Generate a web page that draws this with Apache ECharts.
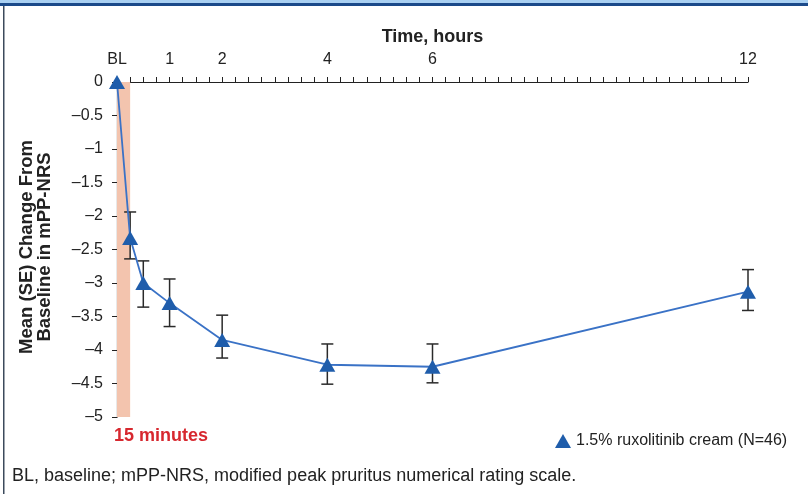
<!DOCTYPE html>
<html>
<head>
<meta charset="utf-8">
<script src="https://cdn.jsdelivr.net/npm/echarts@6/dist/echarts.min.js"></script>
<style>
  html, body { margin: 0; padding: 0; background: #fff; }
  #chart { width: 808px; height: 494px; }
</style>
</head>
<body>
<div id="chart"></div>
<script>
// ---- data ----
const times = [0, 0.25, 0.5, 1, 2, 4, 6, 12];           // hours
const meanChange = [0, -2.33, -3.00, -3.30, -3.85, -4.22, -4.25, -3.13];
const seUpper = [null, -1.94, -2.67, -2.94, -3.48, -3.91, -3.91, -2.80];
const seLower = [null, -2.64, -3.36, -3.65, -4.12, -4.51, -4.49, -3.41];
const xTickValues = [0, 1, 2, 4, 6, 12];
const xTickLabels = ['BL', '1', '2', '4', '6', '12'];
const shadeRange = [0, 0.25];
const seriesName = '1.5% ruxolitinib cream (N=46)';

const FONT = "'Liberation Sans', Arial, sans-serif";

const chart = echarts.init(document.getElementById('chart'), null, { renderer: 'canvas' });

const lineData = times.map((t, i) => [t, meanChange[i]]);
const errData = [];
times.forEach((t, i) => { if (seUpper[i] !== null) errData.push([t, seLower[i], seUpper[i]]); });

const option = {
  backgroundColor: '#fff',
  animation: false,
  grid: { left: 117, right: 60, top: 82, bottom: 77, containLabel: false },
  xAxis: {
    type: 'value', position: 'top', min: 0, max: 12, interval: 0.25,
    name: 'Time, hours', nameLocation: 'middle', nameGap: 36, nameMoveOverlap: false,
    nameTextStyle: { fontFamily: FONT, fontWeight: 'bold', fontSize: 18, color: '#222' },
    axisLine: { show: true, onZero: false, lineStyle: { color: '#222', width: 1.2 } },
    axisTick: { show: true, inside: false, length: 5, lineStyle: { color: '#222', width: 1 } },
    axisLabel: {
      show: true, margin: 14, fontFamily: FONT, fontSize: 16, color: '#222',
      showMinLabel: true, showMaxLabel: true,
      formatter: function (v) {
        const idx = xTickValues.findIndex(x => Math.abs(x - v) < 1e-6);
        return idx >= 0 ? xTickLabels[idx] : '';
      }
    },
    splitLine: { show: false }
  },
  yAxis: {
    type: 'value', min: -5, max: 0, interval: 0.5,
    axisLine: { show: true, onZero: false, lineStyle: { color: '#222', width: 1.2 } },
    axisTick: { show: true, inside: false, length: 5, lineStyle: { color: '#222', width: 1 } },
    axisLabel: {
      margin: 14, fontFamily: FONT, fontSize: 16, color: '#222',
      formatter: function (v) { return String(v).replace('-', '\u2013'); }
    },
    splitLine: { show: false }
  },
  legend: {
    show: true, data: [seriesName], left: 550, top: 428,
    icon: 'triangle', itemWidth: 16, itemHeight: 14, itemGap: 4,
    textStyle: { fontFamily: FONT, fontSize: 16, color: '#222' }
  },
  series: [
    {
      name: 'SE', type: 'custom', z: 1, silent: true,
      renderItem: function (params, api) {
        const x = api.value(0);
        const lo = api.coord([x, api.value(1)]);
        const hi = api.coord([x, api.value(2)]);
        const cap = 6;
        const st = { stroke: '#2a2a2a', lineWidth: 1.5 };
        return {
          type: 'group',
          children: [
            { type: 'line', shape: { x1: lo[0], y1: lo[1], x2: hi[0], y2: hi[1] }, style: st },
            { type: 'line', shape: { x1: lo[0] - cap, y1: lo[1], x2: lo[0] + cap, y2: lo[1] }, style: st },
            { type: 'line', shape: { x1: hi[0] - cap, y1: hi[1], x2: hi[0] + cap, y2: hi[1] }, style: st }
          ]
        };
      },
      encode: { x: 0, y: [1, 2] },
      data: errData
    },
    {
      name: seriesName, type: 'line', z: 3, clip: false,
      data: lineData,
      symbol: 'triangle', symbolSize: [16, 14],
      itemStyle: { color: '#1f5dab' },
      lineStyle: { color: '#3a72c6', width: 1.8 },
      markArea: {
        silent: true,
        itemStyle: { color: '#f3c4ae' },
        data: [[{ xAxis: shadeRange[0] }, { xAxis: shadeRange[1] }]]
      }
    }
  ],
  graphic: [
    { type: 'rect', left: 0, top: 0, shape: { width: 808, height: 3 }, style: { fill: '#a9d0f2' } },
    { type: 'rect', left: 0, top: 3, shape: { width: 808, height: 3 }, style: { fill: '#1b4a8a' } },
    { type: 'rect', left: 3, top: 6, shape: { width: 1.5, height: 488 }, style: { fill: '#3c4a5c' } },
    {
      type: 'text', x: 36, y: 247, rotation: Math.PI / 2,
      style: {
        text: 'Mean (SE) Change From\nBaseline in mPP-NRS', fill: '#222',
        font: 'bold 18.5px ' + FONT, textAlign: 'center', textVerticalAlign: 'middle', lineHeight: 18
      }
    },
    {
      type: 'text', left: 114, top: 427,
      style: { text: '15 minutes', fill: '#d7282f', font: 'bold 18px ' + FONT }
    },
    {
      type: 'text', left: 12, top: 467,
      style: { text: 'BL, baseline; mPP-NRS, modified peak pruritus numerical rating scale.', fill: '#222', font: '18px ' + FONT }
    }
  ]
};
chart.setOption(option);
</script>
</body>
</html>
